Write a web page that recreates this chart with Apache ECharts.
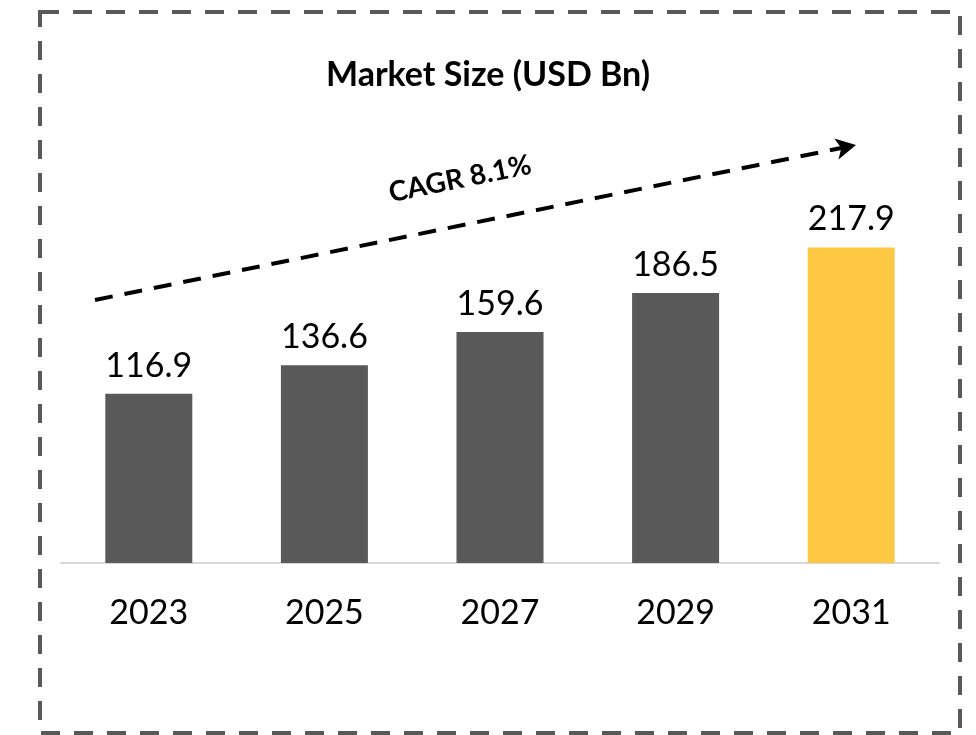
<!DOCTYPE html>
<html>
  <head>
    <meta charset="utf-8">
    <title>Market Size</title>
    <script src="https://cdn.jsdelivr.net/npm/echarts@6/dist/echarts.min.js"></script>
    <style>
        *{ padding: 0; margin: 0; }
        body{ background-color: #ffffff; }
        #chart{ width: 976px; height: 735px; }
    </style>
  </head>
  <body>
    <div id="chart"></div>
    <script type="text/javascript">
        var years = ['2023', '2025', '2027', '2029', '2031'];
        var marketSize = [116.9, 136.6, 159.6, 186.5, 217.9];
        var barColors = ['#595959', '#595959', '#595959', '#595959', '#FFC843'];
        var cagrText = 'CAGR 8.1%';

        var myChart = echarts.init(document.getElementById('chart'));
        var option = {
            animation: false,
            title: {
                text: 'Market Size (USD Bn)',
                left: 'center',
                top: 53,
                textStyle: {
                    fontFamily: 'Lato',
                    fontWeight: 'bold',
                    fontSize: 34,
                    color: '#000000'
                }
            },
            grid: { left: 61, right: 37, top: 201, bottom: 172 },
            xAxis: {
                type: 'category',
                data: years,
                axisLine: { lineStyle: { color: '#d9d9d9', width: 2 } },
                axisTick: { show: false },
                axisLabel: {
                    fontFamily: 'Lato',
                    fontSize: 34,
                    color: '#000000',
                    margin: 33
                }
            },
            yAxis: {
                type: 'value',
                min: 0,
                max: 250,
                show: false
            },
            graphic: [
                {
                    type: 'rect',
                    shape: { x: 40, y: 12, width: 920, height: 721 },
                    style: {
                        fill: 'none',
                        stroke: '#595959',
                        lineWidth: 4,
                        lineDash: [19, 14]
                    }
                },
                {
                    type: 'text',
                    x: 460,
                    y: 179,
                    rotation: 11.5 * Math.PI / 180,
                    style: {
                        text: cagrText,
                        fontFamily: 'Lato',
                        fontWeight: 'bold',
                        fontSize: 28,
                        fill: '#000000',
                        textAlign: 'center',
                        textVerticalAlign: 'middle'
                    }
                }
            ],
            series: [{
                type: 'bar',
                barWidth: 87,
                data: marketSize.map(function (v, i) {
                    return { value: v, itemStyle: { color: barColors[i] } };
                }),
                label: {
                    show: true,
                    position: 'top',
                    distance: 11,
                    fontFamily: 'Lato',
                    fontSize: 34,
                    color: '#000000'
                },
                markLine: {
                    silent: true,
                    symbolSize: [16, 20],
                    lineStyle: { color: '#000000', width: 4, type: [18, 12] },
                    label: { show: false },
                    data: [[
                        { x: 95, y: 300, symbol: 'none' },
                        { x: 856, y: 145, symbol: 'arrow' }
                    ]]
                }
            }]
        };
        myChart.setOption(option);
    </script>
  </body>
</html>
